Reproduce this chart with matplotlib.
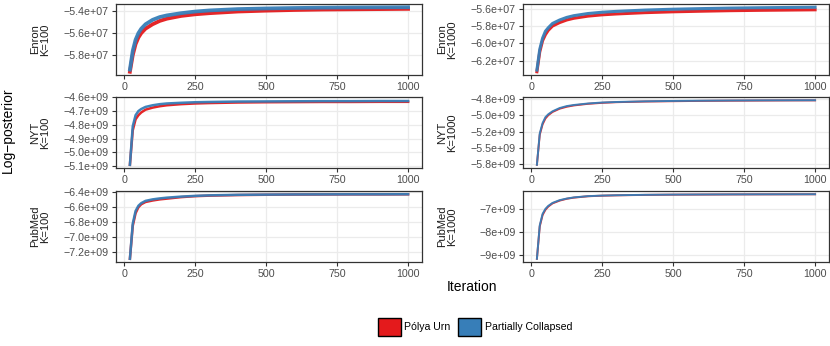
import matplotlib
matplotlib.use('Agg')
import matplotlib.pyplot as plt
from matplotlib.patches import Patch
from matplotlib.ticker import FixedLocator, FixedFormatter

plt.rcParams['font.family'] = ['Liberation Sans', 'DejaVu Sans']

iters = [20, 30, 40, 50, 60, 75, 100, 125, 150, 200, 250, 300, 400, 500, 600, 700, 800, 900, 1000]

enron100_polya = [-5.95e7, -5.80e7, -5.70e7, -5.64e7, -5.60e7, -5.56e7, -5.52e7, -5.49e7, -5.47e7, -5.445e7,
                  -5.43e7, -5.42e7, -5.405e7, -5.397e7, -5.391e7, -5.387e7, -5.385e7, -5.383e7, -5.381e7]
enron100_pc = [-5.93e7, -5.76e7, -5.66e7, -5.60e7, -5.56e7, -5.52e7, -5.48e7, -5.455e7, -5.44e7, -5.42e7,
               -5.405e7, -5.395e7, -5.383e7, -5.377e7, -5.373e7, -5.37e7, -5.368e7, -5.367e7, -5.366e7]

enron1000_polya = [-6.33e7, -6.10e7, -5.97e7, -5.90e7, -5.85e7, -5.80e7, -5.76e7, -5.73e7, -5.71e7, -5.685e7,
                   -5.67e7, -5.66e7, -5.645e7, -5.635e7, -5.628e7, -5.622e7, -5.618e7, -5.615e7, -5.612e7]
enron1000_pc = [-6.31e7, -6.07e7, -5.94e7, -5.86e7, -5.82e7, -5.77e7, -5.73e7, -5.70e7, -5.68e7, -5.655e7,
                -5.64e7, -5.63e7, -5.615e7, -5.605e7, -5.598e7, -5.592e7, -5.588e7, -5.585e7, -5.582e7]

nyt100_polya = [-5.09e9, -4.84e9, -4.76e9, -4.73e9, -4.71e9, -4.69e9, -4.675e9, -4.665e9, -4.658e9, -4.65e9,
                -4.645e9, -4.642e9, -4.638e9, -4.636e9, -4.635e9, -4.634e9, -4.634e9, -4.633e9, -4.633e9]
nyt100_pc = [-5.09e9, -4.81e9, -4.73e9, -4.70e9, -4.685e9, -4.67e9, -4.658e9, -4.65e9, -4.645e9, -4.64e9,
             -4.636e9, -4.634e9, -4.631e9, -4.63e9, -4.629e9, -4.628e9, -4.628e9, -4.627e9, -4.627e9]

nyt1000_polya = [-5.76e9, -5.30e9, -5.14e9, -5.05e9, -5.00e9, -4.95e9, -4.90e9, -4.87e9, -4.85e9, -4.825e9,
                 -4.81e9, -4.80e9, -4.79e9, -4.785e9, -4.78e9, -4.777e9, -4.775e9, -4.773e9, -4.772e9]
nyt1000_pc = [-5.76e9, -5.28e9, -5.12e9, -5.03e9, -4.985e9, -4.94e9, -4.89e9, -4.86e9, -4.843e9, -4.82e9,
              -4.805e9, -4.797e9, -4.787e9, -4.781e9, -4.777e9, -4.774e9, -4.772e9, -4.771e9, -4.77e9]

pubmed100_polya = [-7.29e9, -6.85e9, -6.68e9, -6.60e9, -6.56e9, -6.53e9, -6.51e9, -6.495e9, -6.485e9, -6.465e9,
                   -6.452e9, -6.445e9, -6.437e9, -6.433e9, -6.43e9, -6.429e9, -6.428e9, -6.428e9, -6.427e9]
pubmed100_pc = [-7.29e9, -6.82e9, -6.65e9, -6.58e9, -6.545e9, -6.515e9, -6.495e9, -6.482e9, -6.472e9, -6.458e9,
                -6.448e9, -6.441e9, -6.434e9, -6.431e9, -6.429e9, -6.428e9, -6.427e9, -6.427e9, -6.426e9]

pubmed1000_polya = [-9.16e9, -7.75e9, -7.25e9, -7.02e9, -6.88e9, -6.74e9, -6.62e9, -6.54e9, -6.49e9, -6.43e9,
                    -6.405e9, -6.39e9, -6.37e9, -6.36e9, -6.355e9, -6.35e9, -6.347e9, -6.345e9, -6.343e9]
pubmed1000_pc = [-9.16e9, -7.70e9, -7.20e9, -6.98e9, -6.85e9, -6.72e9, -6.60e9, -6.53e9, -6.48e9, -6.425e9,
                 -6.40e9, -6.385e9, -6.367e9, -6.357e9, -6.352e9, -6.348e9, -6.345e9, -6.343e9, -6.341e9]

panel_labels = ['Enron\nK=100', 'Enron\nK=1000', 'NYT\nK=100', 'NYT\nK=1000', 'PubMed\nK=100', 'PubMed\nK=1000']
panel_polya = [enron100_polya, enron1000_polya, nyt100_polya, nyt1000_polya, pubmed100_polya, pubmed1000_polya]
panel_pc = [enron100_pc, enron1000_pc, nyt100_pc, nyt1000_pc, pubmed100_pc, pubmed1000_pc]

panel_ticks = [
    [-5.8e7, -5.6e7, -5.4e7],
    [-6.2e7, -6.0e7, -5.8e7, -5.6e7],
    [-5.1e9, -5.0e9, -4.9e9, -4.8e9, -4.7e9, -4.6e9],
    [-5.75e9, -5.5e9, -5.25e9, -5.0e9, -4.75e9],
    [-7.2e9, -7.0e9, -6.8e9, -6.6e9, -6.4e9],
    [-9e9, -8e9, -7e9],
]
panel_ticklabels = [
    ['\u22125.8e+07', '\u22125.6e+07', '\u22125.4e+07'],
    ['\u22126.2e+07', '\u22126.0e+07', '\u22125.8e+07', '\u22125.6e+07'],
    ['\u22125.1e+09', '\u22125.0e+09', '\u22124.9e+09', '\u22124.8e+09', '\u22124.7e+09', '\u22124.6e+09'],
    ['\u22125.8e+09', '\u22125.5e+09', '\u22125.2e+09', '\u22125.0e+09', '\u22124.8e+09'],
    ['\u22127.2e+09', '\u22127.0e+09', '\u22126.8e+09', '\u22126.6e+09', '\u22126.4e+09'],
    ['\u22129e+09', '\u22128e+09', '\u22127e+09'],
]
# upper y limit where the reference panel is cut off, None = default margins
panel_ytop = [None, None, -4.598e9, None, None, None]
# line widths: spread of the runs makes some bands look thicker
panel_lw = [2.7, 2.2, 1.8, 1.4, 1.8, 1.4]

red = '#E41A1C'
blue = '#377EB8'
W, H = 830, 346

fig = plt.figure(figsize=(8.3, 3.46), dpi=100)

col_left = [116, 523]
col_w = 306
row_top = [4, 97, 191]
row_h = 71

for i in range(6):
    r, c = divmod(i, 2)
    x0 = col_left[c]
    y0 = row_top[r]
    ax = fig.add_axes([x0 / W, 1 - (y0 + row_h) / H, col_w / W, row_h / H])
    ax.plot(iters, panel_polya[i], color=red, lw=panel_lw[i], alpha=0.95)
    ax.plot(iters, panel_pc[i], color=blue, lw=panel_lw[i], alpha=0.95)
    ax.margins(x=0.05, y=0.05)
    if panel_ytop[i] is not None:
        ax.set_ylim(top=panel_ytop[i])
    ax.set_xticks([0, 250, 500, 750, 1000])
    ax.yaxis.set_major_locator(FixedLocator(panel_ticks[i]))
    ax.yaxis.set_major_formatter(FixedFormatter(panel_ticklabels[i]))
    ax.grid(True, color='#EBEBEB', lw=0.9)
    ax.set_axisbelow(True)
    for s in ax.spines.values():
        s.set_color('#333333')
        s.set_linewidth(0.9)
    ax.tick_params(length=2.75, width=0.8, color='#333333', labelcolor='#4D4D4D',
                   labelsize=7.7, pad=2.5)
    fig.text((x0 - 76) / W, 1 - (y0 + row_h / 2) / H, panel_labels[i], rotation=90,
             ha='center', va='center', fontsize=8, linespacing=1.05, color='#1A1A1A')

fig.text(8 / W, 1 - 130 / H, 'Log\u2212posterior', rotation=90, ha='center', va='center', fontsize=10)
fig.text(472 / W, 1 - 287 / H, 'Iteration', ha='center', va='center', fontsize=10)

handles = [Patch(facecolor=red, edgecolor='black', lw=1.0, label='P\u00f3lya Urn'),
           Patch(facecolor=blue, edgecolor='black', lw=1.0, label='Partially Collapsed')]
fig.legend(handles=handles, loc='center', bbox_to_anchor=(475 / W, 1 - 327 / H), ncol=2,
           frameon=False, fontsize=7.6, handlelength=2.2, handleheight=2.2,
           handletextpad=0.35, columnspacing=0.7, borderaxespad=0, borderpad=0)

fig.savefig('out.png', dpi=100)
